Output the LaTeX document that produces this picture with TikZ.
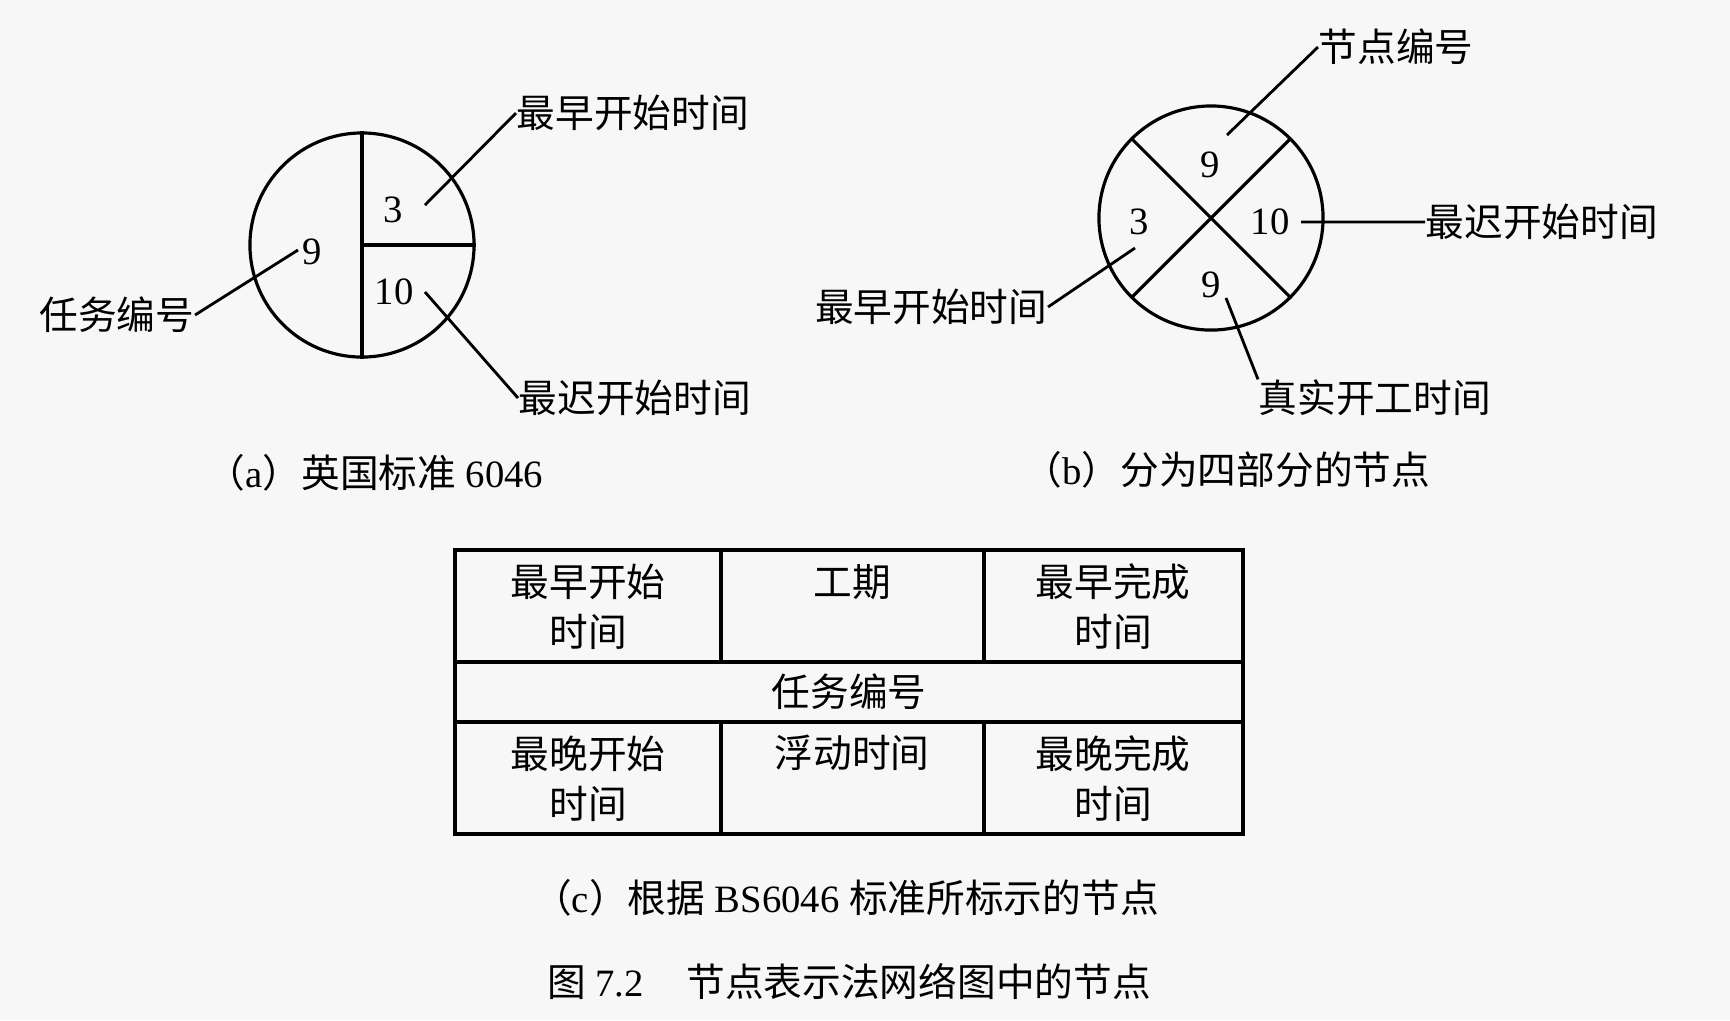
\documentclass[tikz,border=0pt]{standalone}
\usepackage{fontspec}
\setmainfont{Liberation Serif}
\newfontfamily\cjk{Noto Sans CJK SC}
\usetikzlibrary{positioning}
\definecolor{paper}{RGB}{247,247,247}

\begin{document}
\begin{tikzpicture}[
	x=0.01cm, y=-0.01cm,
	every node/.style={inner sep=0pt, font=\fontsize{11}{13}\selectfont},
	lbl/.style={font=\fontsize{11}{13}\selectfont\cjk},
	cell/.style={font=\fontsize{11}{14.2}\selectfont\cjk, align=center},
	capt/.style={font=\fontsize{11}{13}\selectfont},
	ring/.style={circle, draw, line width=0.9pt, minimum size=2.24cm},
	leader/.style={line width=0.8pt},
	grid/.style={line width=1.1pt}
]
\useasboundingbox[fill=paper] (0,0) rectangle (1730,1020);

%% (a) node with three parts
\node[ring] (A) at (362,245) {};
\draw[line width=0.9pt] (A.north) -- (A.south) (A.center) -- (A.east);
\node (a3) at (393,210) {3};
\node (a9) at (312,252) {9};
\node (a10) at (394,292) {10};
\node[lbl, anchor=west] (aES) at (516,113) {最早开始时间};
\node[lbl, anchor=west] (aLS) at (518,398) {最迟开始时间};
\node[lbl, anchor=east] (aID) at (195,315) {任务编号};
\coordinate (a3e) at (425,205);
\coordinate (a10e) at (425,292);
\coordinate (a9e) at (298,250);
\draw[leader] (a3e) -- (aES.west)
	(a10e) -- (aLS.west)
	(a9e) -- (aID.east);
\node[capt] (capA) at (375,473) {{\cjk （}a{\cjk ）英国标准} 6046};

%% (b) node with four parts
\node[ring] (B) at (1211,218) {};
\draw[line width=0.9pt] (B.135) -- (B.-45) (B.45) -- (B.-135);
\node (b9t) at (1210,165) {9};
\node (b3) at (1139,222) {3};
\node (b10) at (1270,222) {10};
\node (b9b) at (1211,285) {9};
\node[lbl, anchor=west] (bID) at (1318,47) {节点编号};
\node[lbl, anchor=west] (bLS) at (1425,222) {最迟开始时间};
\node[lbl, anchor=east] (bES) at (1048,307) {最早开始时间};
\node[lbl, anchor=west] (bAS) at (1258,398) {真实开工时间};
\coordinate (b9te) at (1227,135);
\coordinate (b10e) at (1301,222);
\coordinate (b3e) at (1135,248);
\coordinate (b9be) at (1226,298);
\draw[leader] (b9te) -- (bID.west)
	(b10e) -- (bLS.west)
	(b3e) -- (bES.east)
	(b9be) -- (bAS.north west);
\node[capt] (capB) at (1227,470) {{\cjk （}b{\cjk ）分为四部分的节点}};

%% (c) BS6046 box
\draw[grid] (455,550) rectangle (1243,834);
\draw[grid] (455,662) -- (1243,662) (455,722) -- (1243,722)
	(721,550) -- (721,662) (984,550) -- (984,662)
	(721,722) -- (721,834) (984,722) -- (984,834);
\node[cell] (ES) at (588,607) {最早开始\\时间};
\node[cell] (DU) at (852,582) {工期};
\node[cell] (EF) at (1113,607) {最早完成\\时间};
\node[cell] (ID) at (849,692) {任务编号};
\node[cell] (LS) at (588,779) {最晚开始\\时间};
\node[cell] (FL) at (852,753) {浮动时间};
\node[cell] (LF) at (1113,779) {最晚完成\\时间};
\node[capt] (capC) at (846,898) {{\cjk （}c{\cjk ）根据} BS6046 {\cjk 标准所标示的节点}};

\node[capt] (fig) at (849,982) {{\cjk 图} 7.2\hspace{1.1em}{\cjk 节点表示法网络图中的节点}};
\end{tikzpicture}
\end{document}
